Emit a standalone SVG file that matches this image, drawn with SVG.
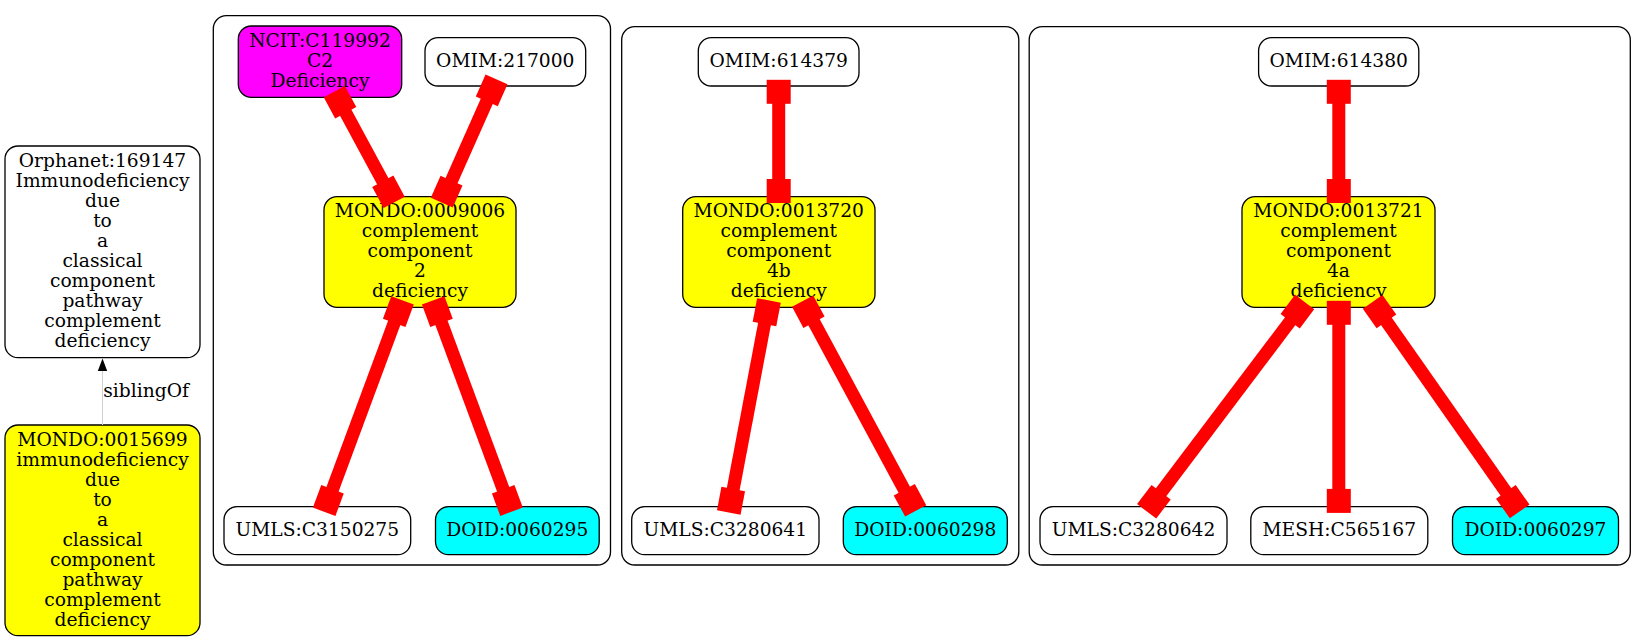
<svg xmlns="http://www.w3.org/2000/svg" width="1643" height="641" viewBox="0 0 1643 641">
<style>
  text { font-family: "DejaVu Serif", "Liberation Serif", serif; font-size: 18.67px; fill: #000; text-anchor: middle; }
  .cluster { fill: none; stroke: #000; stroke-width: 1.3; }
  .node { stroke: #000; stroke-width: 1.3; }
  .white { fill: #ffffff; }
  .yellow { fill: #ffff00; }
  .magenta { fill: #ff00ff; }
  .cyan { fill: #00ffff; }
  .xref { fill: none; stroke: #ff0000; stroke-width: 13; marker-start: url(#box); marker-end: url(#box); }
</style>
<defs>
  <marker id="box" markerUnits="userSpaceOnUse" orient="auto-start-reverse" markerWidth="40" markerHeight="40" refX="0" refY="0" viewBox="-20 -20 40 40" overflow="visible">
    <rect x="-17.3" y="-12" width="24" height="24" fill="#ff0000"/>
  </marker>
</defs>
<rect width="1643" height="641" fill="#ffffff"/>

<g id="clusters">
  <rect id="cluster1" class="cluster" x="213.3" y="15.7" width="397.2" height="549.3" rx="13"/>
  <rect id="cluster2" class="cluster" x="621.7" y="26.7" width="397.1" height="538.3" rx="13"/>
  <rect id="cluster3" class="cluster" x="1029.2" y="26.7" width="601.1" height="538.3" rx="13"/>
</g>

<g id="node-orphanet169147">
  <rect class="node white" x="5" y="146" width="195" height="211.7" rx="13"/>
  <text y="166.7"><tspan x="102.5">Orphanet:169147</tspan><tspan x="102.5" dy="20">Immunodeficiency</tspan><tspan x="102.5" dy="20">due</tspan><tspan x="102.5" dy="20">to</tspan><tspan x="102.5" dy="20">a</tspan><tspan x="102.5" dy="20">classical</tspan><tspan x="102.5" dy="20">component</tspan><tspan x="102.5" dy="20">pathway</tspan><tspan x="102.5" dy="20">complement</tspan><tspan x="102.5" dy="20">deficiency</tspan></text>
</g>
<g id="node-mondo0015699">
  <rect class="node yellow" x="5" y="425" width="195" height="210.7" rx="13"/>
  <text y="445.7"><tspan x="102.5">MONDO:0015699</tspan><tspan x="102.5" dy="20">immunodeficiency</tspan><tspan x="102.5" dy="20">due</tspan><tspan x="102.5" dy="20">to</tspan><tspan x="102.5" dy="20">a</tspan><tspan x="102.5" dy="20">classical</tspan><tspan x="102.5" dy="20">component</tspan><tspan x="102.5" dy="20">pathway</tspan><tspan x="102.5" dy="20">complement</tspan><tspan x="102.5" dy="20">deficiency</tspan></text>
</g>

<g id="node-ncitC119992">
  <rect class="node magenta" x="238.3" y="26" width="163.4" height="71.3" rx="13"/>
  <text y="46.7"><tspan x="320">NCIT:C119992</tspan><tspan x="320" dy="20">C2</tspan><tspan x="320" dy="20">Deficiency</tspan></text>
</g>
<g id="node-omim217000">
  <rect class="node white" x="425" y="37.7" width="160.7" height="48.3" rx="13"/>
  <text x="505.3" y="66.7">OMIM:217000</text>
</g>
<g id="node-mondo0009006">
  <rect class="node yellow" x="324" y="196.7" width="192" height="110.6" rx="13"/>
  <text y="216.7"><tspan x="420">MONDO:0009006</tspan><tspan x="420" dy="20">complement</tspan><tspan x="420" dy="20">component</tspan><tspan x="420" dy="20">2</tspan><tspan x="420" dy="20">deficiency</tspan></text>
</g>
<g id="node-umlsC3150275">
  <rect class="node white" x="224" y="506.7" width="186.7" height="48" rx="13"/>
  <text x="317.3" y="536">UMLS:C3150275</text>
</g>
<g id="node-doid0060295">
  <rect class="node cyan" x="435.5" y="506.7" width="163.7" height="48" rx="13"/>
  <text x="517.3" y="536">DOID:0060295</text>
</g>

<g id="node-omim614379">
  <rect class="node white" x="698.3" y="37.7" width="160.7" height="48.3" rx="13"/>
  <text x="778.7" y="66.7">OMIM:614379</text>
</g>
<g id="node-mondo0013720">
  <rect class="node yellow" x="682.7" y="196.7" width="192.3" height="110.6" rx="13"/>
  <text y="216.7"><tspan x="778.8">MONDO:0013720</tspan><tspan x="778.8" dy="20">complement</tspan><tspan x="778.8" dy="20">component</tspan><tspan x="778.8" dy="20">4b</tspan><tspan x="778.8" dy="20">deficiency</tspan></text>
</g>
<g id="node-umlsC3280641">
  <rect class="node white" x="631.7" y="506.7" width="187.3" height="48" rx="13"/>
  <text x="725.3" y="536">UMLS:C3280641</text>
</g>
<g id="node-doid0060298">
  <rect class="node cyan" x="843.3" y="506.7" width="164" height="48" rx="13"/>
  <text x="925.3" y="536">DOID:0060298</text>
</g>

<g id="node-omim614380">
  <rect class="node white" x="1258.6" y="37.7" width="160.2" height="48.3" rx="13"/>
  <text x="1338.7" y="66.7">OMIM:614380</text>
</g>
<g id="node-mondo0013721">
  <rect class="node yellow" x="1242" y="196.7" width="193" height="110.6" rx="13"/>
  <text y="216.7"><tspan x="1338.5">MONDO:0013721</tspan><tspan x="1338.5" dy="20">complement</tspan><tspan x="1338.5" dy="20">component</tspan><tspan x="1338.5" dy="20">4a</tspan><tspan x="1338.5" dy="20">deficiency</tspan></text>
</g>
<g id="node-umlsC3280642">
  <rect class="node white" x="1040" y="506.7" width="187" height="48" rx="13"/>
  <text x="1133.5" y="536">UMLS:C3280642</text>
</g>
<g id="node-meshC565167">
  <rect class="node white" x="1250.8" y="506.7" width="177" height="48" rx="13"/>
  <text x="1339.3" y="536">MESH:C565167</text>
</g>
<g id="node-doid0060297">
  <rect class="node cyan" x="1452.5" y="506.7" width="166" height="48" rx="13"/>
  <text x="1535.5" y="536">DOID:0060297</text>
</g>

<g id="connectors">
  <g id="edge-siblingOf">
    <line x1="102.5" y1="425" x2="102.5" y2="370" stroke="#d3d3d3" stroke-width="1"/>
    <polygon points="102.5,358.5 97.8,371 107.2,371" fill="#000"/>
    <text x="103.3" y="397" style="text-anchor:start">siblingOf</text>
  </g>
  <path class="xref" d="M337.5,97.5 L391,196.5"/>
  <path class="xref" d="M493.8,85.5 L444.5,196.5"/>
  <path class="xref" d="M400.2,306.7 L326.5,505.5"/>
  <path class="xref" d="M435.5,306.7 L509.2,505.5"/>
  <path class="xref" d="M778.7,86.5 L778.7,196.3"/>
  <path class="xref" d="M767.7,307 L730,506"/>
  <path class="xref" d="M805.8,307 L912.5,505"/>
  <path class="xref" d="M1338.8,86.5 L1338.8,196.3"/>
  <path class="xref" d="M1300.6,307.4 L1150.7,506"/>
  <path class="xref" d="M1338.8,307.5 L1338.8,506.2"/>
  <path class="xref" d="M1376.5,307.3 L1515.8,506"/>
</g>
</svg>
